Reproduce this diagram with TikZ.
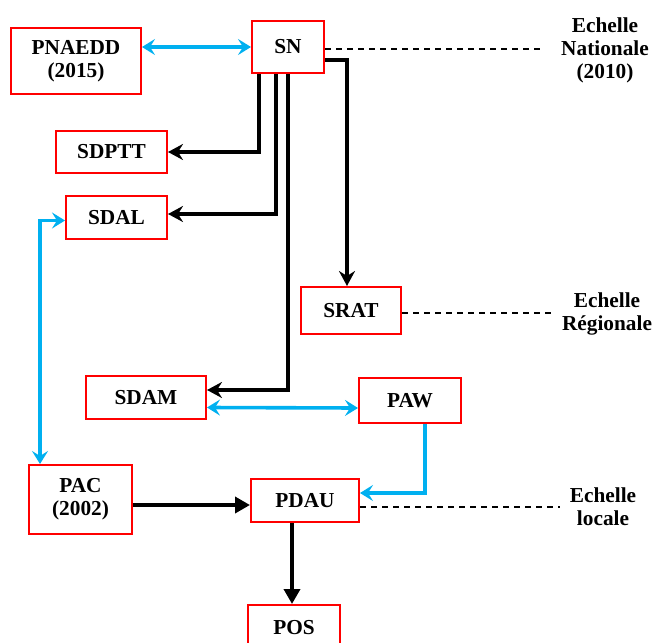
\documentclass[tikz,border=0pt]{standalone}
\usepackage{fontspec}
\setmainfont{Liberation Serif}
\usetikzlibrary{arrows.meta,calc}
\definecolor{boxred}{RGB}{255,0,0}
\definecolor{linkblue}{RGB}{0,176,240}
\begin{document}
\begin{tikzpicture}[x=1pt,y=-1pt,
  every node/.style={font=\fontsize{21.3}{23}\selectfont\bfseries, align=center, inner sep=0pt},
  box/.style={draw=boxred, line width=2pt, fill=white},
  blk/.style={line width=3.6pt, draw=black, line join=miter},
  blu/.style={line width=3.6pt, draw=linkblue, line join=miter},
  blkstealth/.style={-{Stealth[length=15pt,width=16pt,inset=5pt]}},
  blktri/.style={-{Triangle[length=15pt,width=16pt]}},
  blutip/.style={{Stealth[length=13pt,width=16pt,inset=5pt]}-{Stealth[length=13pt,width=16pt,inset=5pt]}},
  blutipone/.style={-{Stealth[length=13pt,width=16pt,inset=5pt]}},
  dsh/.style={line width=1.6pt, dash pattern=on 6pt off 5pt}
]
\useasboundingbox (0,0) rectangle (654,643);

\node[box, minimum width=130pt, minimum height=66pt] (PNAEDD) at (76,61) {PNAEDD\\(2015)};
\node[box, minimum width=72pt, minimum height=52pt] (SN) at (288,47) {SN};
\node[box, minimum width=111pt, minimum height=42pt] (SDPTT) at (111.5,152) {SDPTT};
\node[box, minimum width=101pt, minimum height=43pt] (SDAL) at (116.5,217.5) {SDAL};
\node[box, minimum width=100pt, minimum height=47pt] (SRAT) at (351,310.5) {SRAT};
\node[box, minimum width=120pt, minimum height=43pt] (SDAM) at (146,397.5) {SDAM};
\node[box, minimum width=102pt, minimum height=45pt] (PAW) at (410,400.5) {PAW};
\node[box, minimum width=103pt, minimum height=69pt] (PAC) at (80.5,499.5) {PAC\\(2002)};
\node[box, minimum width=108pt, minimum height=43pt] (PDAU) at (305,500.5) {PDAU};
\node[box, minimum width=92pt, minimum height=45pt] (POS) at (294,627.5) {POS};

\node (ENat) at (605,50) {Echelle\\Nationale\\(2010)};
\node (EReg) at (607,314) {Echelle\\Régionale};
\node (ELoc) at (603,507) {Echelle\\locale};

\coordinate (dN) at (540,49);
\coordinate (dR) at (553,313);
\coordinate (dL) at (560,507);
\coordinate (posx) at ($(POS.north)+(-2,0)$);
\coordinate (pacx) at ($(PAC.east)+(0,5.5)$);

% dashed scale lines
\draw[dsh] (SN.east |- dN) -- (dN);
\draw[dsh] (SRAT.east |- dR) -- (dR);
\draw[dsh] (PDAU.east |- dL) -- (dL);

% blue links
\draw[blu, blutip] (PNAEDD.east |- SN.west) -- (SN.west);
\draw[blu, blutip] ($(SDAL.west)+(0,3)$) -| ($(PAC.north west)+(12,0)$);
\draw[blu, blutip] ($(SDAM.east)+(0,10)$) -- ($(PAW.west)+(0,7.5)$);
\draw[blu, blutipone] ($(PAW.south)+(15,0)$) |- ($(PDAU.east)+(0,-7.5)$);

% black links
\draw[blk, blkstealth] ($(SN.south)+(-29,0)$) |- (SDPTT.east);
\draw[blk, blkstealth] ($(SN.south)+(-12,0)$) |- ($(SDAL.east)+(0,-3.5)$);
\draw[blk, blkstealth] (SN.south) |- ($(SDAM.east)+(0,-7.5)$);
\draw[blk, blkstealth] ($(SN.east)+(0,13)$) -| ($(SRAT.north)+(-4,0)$);
\draw[blk, blktri] (pacx) -- (PDAU.west |- pacx);
\draw[blk, blktri] (posx |- PDAU.south) -- (posx);
\end{tikzpicture}
\end{document}
